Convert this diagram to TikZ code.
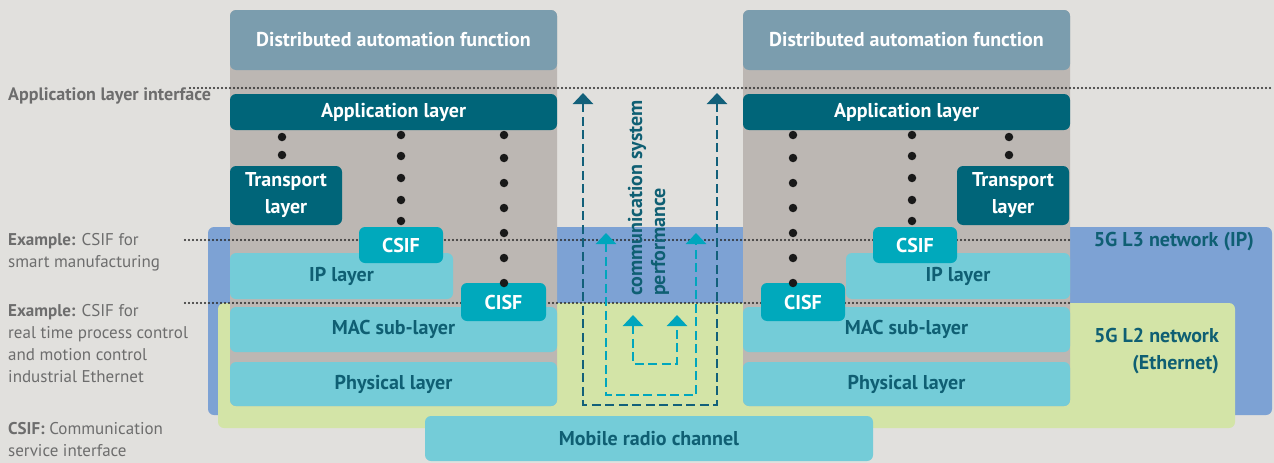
\documentclass[tikz,border=0pt]{standalone}
\usepackage{fontspec}
\setmainfont{PT Sans}
\usetikzlibrary{arrows.meta}
\definecolor{bgc}{HTML}{E1E0DD}
\definecolor{greyc}{HTML}{BCB7B3}
\definecolor{dafc}{HTML}{7B9DAE}
\definecolor{appc}{HTML}{006579}
\definecolor{csifc}{HTML}{00A9BC}
\definecolor{layc}{HTML}{74CCD8}
\definecolor{laytext}{HTML}{0F5F73}
\definecolor{bluec}{HTML}{7DA2D4}
\definecolor{greenc}{HTML}{D3E4A7}
\definecolor{outerc}{HTML}{12607A}
\definecolor{innerc}{HTML}{00A6BD}
\definecolor{labc}{HTML}{6D6D6D}
\begin{document}
\begin{tikzpicture}[x=1pt,y=-1pt,
  region/.style={rounded corners=6pt, inner sep=0pt, draw=none},
  box/.style={rounded corners=6pt, inner sep=0pt, align=center, font=\bfseries\fontsize{20}{27}\selectfont},
  dafbox/.style={box, fill=dafc, text=white},
  darkbox/.style={box, fill=appc, text=white},
  csifbox/.style={box, fill=csifc, text=white},
  laybox/.style={box, fill=layc, text=laytext},
  greycol/.style={region, fill=greyc},
  ifline/.style={line width=2.2pt, dash pattern=on 0pt off 4pt, line cap=round, draw=black!85},
  stackdot/.style={circle, fill=black!90, inner sep=0pt, minimum size=8.5pt},
  leftlab/.style={anchor=north west, align=left, inner sep=0pt, text=labc, font=\fontsize{17}{22}\selectfont},
  netlab/.style={inner sep=0pt, align=right, text=laytext, font=\bfseries\fontsize{20}{27}\selectfont},
  perfarrow/.style={line width=2.6pt, dash pattern=on 9pt off 4.5pt, {Triangle[width=20pt,length=11pt]}-{Triangle[width=20pt,length=11pt]}},
]
% background
\fill[bgc] (0,0) rectangle (1274,463);
\useasboundingbox (0,0) rectangle (1274,463);

% network regions
\node[region, fill=bluec, minimum width=1064, minimum height=188] (l3) at (740,321) {};
\node[region, fill=greenc, minimum width=1017, minimum height=125] (l2) at (726.5,365.5) {};

% grey stacks
\node[greycol, minimum width=327, minimum height=396] (colL) at (393.5,208) {};
\node[greycol, minimum width=327, minimum height=396] (colR) at (906.5,208) {};

% mobile radio channel
\node[laybox, minimum width=448, minimum height=45] (mobile) at (649,438.5) {Mobile radio channel};

% interface lines
\coordinate (ifA1) at (190,88);  \coordinate (ifA2) at (1272,88);
\coordinate (ifB1) at (185,240); \coordinate (ifB2) at (1071,240);
\coordinate (ifC1) at (185,303); \coordinate (ifC2) at (1071,303);
\draw[ifline] (ifA1) -- (ifA2);
\draw[ifline] (ifB1) -- (ifB2);
\draw[ifline] (ifC1) -- (ifC2);

% left stack
\node[dafbox, minimum width=327, minimum height=60] (dafL) at (393.5,40) {Distributed automation function};
\node[darkbox, minimum width=327, minimum height=36] (appL) at (393.5,112) {Application layer};
\node[darkbox, minimum width=112, minimum height=59] (trL) at (286,195.5) {Transport\\layer};
\node[laybox, minimum width=223, minimum height=46] (ipL) at (341.5,276) {IP layer};
\node[csifbox, minimum width=84, minimum height=36] (csifL) at (401,245) {CSIF};
\node[laybox, minimum width=327, minimum height=45] (macL) at (393.5,329.5) {MAC sub-layer};
\node[csifbox, minimum width=85, minimum height=38] (cisfL) at (503.5,302) {CISF};
\node[laybox, minimum width=327, minimum height=44] (phyL) at (393.5,384) {Physical layer};

% right stack
\node[dafbox, minimum width=327, minimum height=60] (dafR) at (906.5,40) {Distributed automation function};
\node[darkbox, minimum width=327, minimum height=36] (appR) at (906.5,112) {Application layer};
\node[darkbox, minimum width=112, minimum height=59] (trR) at (1013,195.5) {Transport\\layer};
\node[laybox, minimum width=224, minimum height=46] (ipR) at (958,276) {IP layer};
\node[csifbox, minimum width=84, minimum height=36] (csifR) at (915,245) {CSIF};
\node[laybox, minimum width=327, minimum height=45] (macR) at (906.5,329.5) {MAC sub-layer};
\node[csifbox, minimum width=84, minimum height=38] (cisfR) at (803,302) {CISF};
\node[laybox, minimum width=327, minimum height=44] (phyR) at (906.5,384) {Physical layer};

% dots, left stack
\foreach \y [count=\i] in {137,155} \node[stackdot] (dLa\i) at (282,\y) {};
\foreach \y [count=\i] in {135,156,178,200,221} \node[stackdot] (dLb\i) at (401,\y) {};
\foreach \y [count=\i] in {135,158,183,208,233,258,283} \node[stackdot] (dLc\i) at (504,\y) {};
% dots, right stack
\foreach \y [count=\i] in {135,158,183,208,233,258,283} \node[stackdot] (dRa\i) at (793,\y) {};
\foreach \y [count=\i] in {135,156,178,200,221} \node[stackdot] (dRb\i) at (912,\y) {};
\foreach \y [count=\i] in {137,155} \node[stackdot] (dRc\i) at (1009,\y) {};

% communication system performance arrows
\coordinate (oTL) at (583,93);  \coordinate (oBL) at (583,405);
\coordinate (oBR) at (717,405); \coordinate (oTR) at (717,93);
\coordinate (mTL) at (606,233); \coordinate (mBL) at (606,395);
\coordinate (mBR) at (696,395); \coordinate (mTR) at (696,233);
\coordinate (iTL) at (633,315); \coordinate (iBL) at (633,364);
\coordinate (iBR) at (677,364); \coordinate (iTR) at (677,315);
\draw[perfarrow, draw=outerc] (oTL) -- (oBL) -- (oBR) -- (oTR);
\draw[perfarrow, draw=innerc] (mTL) -- (mBL) -- (mBR) -- (mTR);
\draw[perfarrow, draw=innerc] (iTL) -- (iBL) -- (iBR) -- (iTR);
\node[rotate=90, anchor=west, align=left, inner sep=0pt, text=laytext, font=\fontsize{20}{23}\selectfont\bfseries] (perf) at (648.5,296) {communication system\\performance};

% network labels
\node[netlab, anchor=east] (l3lab) at (1254,242) {5G L3 network (IP)};
\node[netlab, anchor=east] (l2lab) at (1219,351.5) {5G L2 network\\(Ethernet)};

% left labels
\node[leftlab, anchor=west, font=\bfseries\fontsize{18}{22}\selectfont] (labA) at (8,95.5) {Application layer interface};
\node[leftlab] (labB) at (8,233) {\textbf{Example:} CSIF for\\smart manufacturing};
\node[leftlab] (labC) at (8,304) {\textbf{Example:} CSIF for\\real time process control\\and motion control\\industrial Ethernet};
\node[leftlab] (labD) at (8,422) {\textbf{CSIF:} Communication\\service interface};
\end{tikzpicture}
\end{document}
